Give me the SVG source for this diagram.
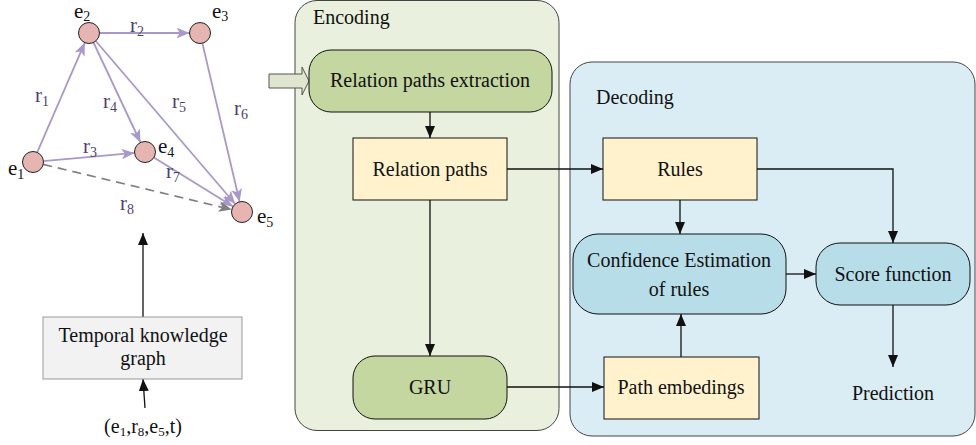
<svg xmlns="http://www.w3.org/2000/svg" width="976" height="445" viewBox="0 0 976 445" font-family="'Liberation Serif', 'Times New Roman', Times, serif">
<style>
text{font-family:'Liberation Serif', 'Times New Roman', Times, serif;fill:#111}
.t{font-size:20px}
.m{text-anchor:middle}
.g{font-size:21px;fill:#4e4170}
.e{font-size:21px;fill:#111}
.s{font-size:14px}
.k{stroke:#111;stroke-width:1.3;fill:none}
.gr{stroke:#a999c9;stroke-width:1.8;fill:none}
.node{fill:#e6b5b1;stroke:#222;stroke-width:1}
</style>
<defs>
<marker id="ab" viewBox="0 0 12 10" refX="12" refY="5" markerWidth="12" markerHeight="10" markerUnits="userSpaceOnUse" orient="auto"><path d="M0,0L12,5L0,10z" fill="#111"/></marker>
<marker id="ap" viewBox="0 0 12 10" refX="12" refY="5" markerWidth="13" markerHeight="11" markerUnits="userSpaceOnUse" orient="auto"><path d="M0,0L12,5L0,10L3,5z" fill="#a999c9"/></marker>
<marker id="ag" viewBox="0 0 12 10" refX="12" refY="5" markerWidth="13" markerHeight="11" markerUnits="userSpaceOnUse" orient="auto"><path d="M0,0L12,5L0,10L3,5z" fill="#808080"/></marker>
</defs>

<g id="encoding-panel">
<rect x="295" y="0.5" width="264" height="430" rx="22" fill="#e9f0dd" stroke="#444" stroke-width="1"/>
<text class="t" x="313" y="24">Encoding</text>
</g>
<g id="decoding-panel">
<rect x="570" y="62" width="405" height="374" rx="22" fill="#dbedf4" stroke="#444" stroke-width="1"/>
<text class="t" x="596" y="104">Decoding</text>
</g>

<g id="graph">
<g id="edges">
<line class="gr" x1="37.2" y1="152.4" x2="84.8" y2="42.6" marker-end="url(#ap)"/>
<line class="gr" x1="99.5" y1="33" x2="189.5" y2="33" marker-end="url(#ap)"/>
<line class="gr" x1="43.5" y1="161.1" x2="134.5" y2="152.9" marker-end="url(#ap)"/>
<line class="gr" x1="93.5" y1="42.5" x2="140.5" y2="142.5" marker-end="url(#ap)"/>
<line class="gr" x1="95.8" y1="41" x2="235.2" y2="204" marker-end="url(#ap)"/>
<line class="gr" x1="202.4" y1="43.2" x2="239.6" y2="201.8" marker-end="url(#ap)"/>
<line class="gr" x1="153.9" y1="157.5" x2="233.1" y2="206.5" marker-end="url(#ap)"/>
<line x1="43.2" y1="164.4" x2="231.8" y2="209.6" stroke="#808080" stroke-width="1.6" stroke-dasharray="9,6" marker-end="url(#ag)"/>
</g>
<g id="edge-labels">
<text class="g" x="35" y="102">r<tspan class="s" dy="4">1</tspan></text>
<text class="g" x="130" y="32">r<tspan class="s" dy="4">2</tspan></text>
<text class="g" x="83" y="153">r<tspan class="s" dy="4">3</tspan></text>
<text class="g" x="103" y="108">r<tspan class="s" dy="4">4</tspan></text>
<text class="g" x="172" y="108">r<tspan class="s" dy="4">5</tspan></text>
<text class="g" x="234" y="115">r<tspan class="s" dy="4">6</tspan></text>
<text class="g" x="166" y="178">r<tspan class="s" dy="4">7</tspan></text>
<text class="g" x="120" y="210">r<tspan class="s" dy="4">8</tspan></text>
</g>
<g id="e1"><circle class="node" cx="33" cy="162" r="10.5"/><text class="e" x="8" y="175">e<tspan class="s" dy="4">1</tspan></text></g>
<g id="e2"><circle class="node" cx="89" cy="33" r="10.5"/><text class="e" x="74" y="18">e<tspan class="s" dy="3">2</tspan></text></g>
<g id="e3"><circle class="node" cx="200" cy="33" r="10.5"/><text class="e" x="212" y="18">e<tspan class="s" dy="3">3</tspan></text></g>
<g id="e4"><circle class="node" cx="145" cy="152" r="10.5"/><text class="e" x="158" y="153">e<tspan class="s" dy="4">4</tspan></text></g>
<g id="e5"><circle class="node" cx="242" cy="212" r="10.5"/><text class="e" x="257" y="223">e<tspan class="s" dy="4">5</tspan></text></g>
</g>

<g id="connectors">
<line class="k" x1="143" y1="317" x2="143" y2="233" marker-end="url(#ab)"/>
<line class="k" x1="145" y1="408" x2="143" y2="379" marker-end="url(#ab)"/>
<polygon points="269,74 302,74 302,67 309,81 302,95 302,88 269,88" fill="#dfe5cf" stroke="#555" stroke-width="1"/>
<line class="k" x1="430" y1="112" x2="430" y2="138" marker-end="url(#ab)"/>
<line class="k" x1="430" y1="200" x2="430" y2="356" marker-end="url(#ab)"/>
<line class="k" x1="507" y1="169" x2="603" y2="169" marker-end="url(#ab)"/>
<line class="k" x1="507" y1="387" x2="604" y2="387" marker-end="url(#ab)"/>
<line class="k" x1="680" y1="200" x2="680" y2="234" marker-end="url(#ab)"/>
<line class="k" x1="681" y1="357" x2="681" y2="314" marker-end="url(#ab)"/>
<line class="k" x1="786" y1="274" x2="816" y2="274" marker-end="url(#ab)"/>
<polyline class="k" points="757,169 893,169 893,243" marker-end="url(#ab)"/>
<line class="k" x1="893" y1="305" x2="893" y2="367" marker-end="url(#ab)"/>
</g>

<g id="tkg">
<rect x="43" y="317" width="199" height="62" fill="#f2f2f2" stroke="#999" stroke-width="1"/>
<text class="t m" x="143" y="342">Temporal knowledge</text>
<text class="t m" x="143" y="365">graph</text>
</g>
<g id="query">
<text class="t m" x="143" y="433">(e<tspan font-size="13" dy="3">1</tspan><tspan dy="-3">,r</tspan><tspan font-size="13" dy="3">8</tspan><tspan dy="-3">,e</tspan><tspan font-size="13" dy="3">5</tspan><tspan dy="-3">,t)</tspan></text>
</g>

<g id="extraction">
<rect x="309" y="50" width="243" height="62" rx="22" fill="#c5d7a1" stroke="#111" stroke-width="1"/>
<text class="t m" x="430" y="87">Relation paths extraction</text>
</g>
<g id="relation-paths">
<rect x="353" y="138" width="154" height="62" fill="#fff2cc" stroke="#111" stroke-width="1"/>
<text class="t m" x="430" y="176">Relation paths</text>
</g>
<g id="gru">
<rect x="353" y="356" width="154" height="63" rx="22" fill="#c5d7a1" stroke="#111" stroke-width="1"/>
<text class="t m" x="430" y="394">GRU</text>
</g>
<g id="rules">
<rect x="603" y="138" width="154" height="62" fill="#fff2cc" stroke="#111" stroke-width="1"/>
<text class="t m" x="680" y="176">Rules</text>
</g>
<g id="confidence">
<rect x="573" y="234" width="213" height="80" rx="25" fill="#b7dde8" stroke="#111" stroke-width="1"/>
<text class="t m" x="679" y="267">Confidence Estimation</text>
<text class="t m" x="679" y="296">of rules</text>
</g>
<g id="score">
<rect x="816" y="243" width="154" height="62" rx="24" fill="#b7dde8" stroke="#111" stroke-width="1"/>
<text class="t m" x="893" y="281">Score function</text>
</g>
<g id="path-embedings">
<rect x="604" y="357" width="155" height="62" fill="#fff2cc" stroke="#111" stroke-width="1"/>
<text class="t m" x="681" y="394">Path embedings</text>
</g>
<g id="prediction">
<text class="t m" x="893" y="400">Prediction</text>
</g>
</svg>
